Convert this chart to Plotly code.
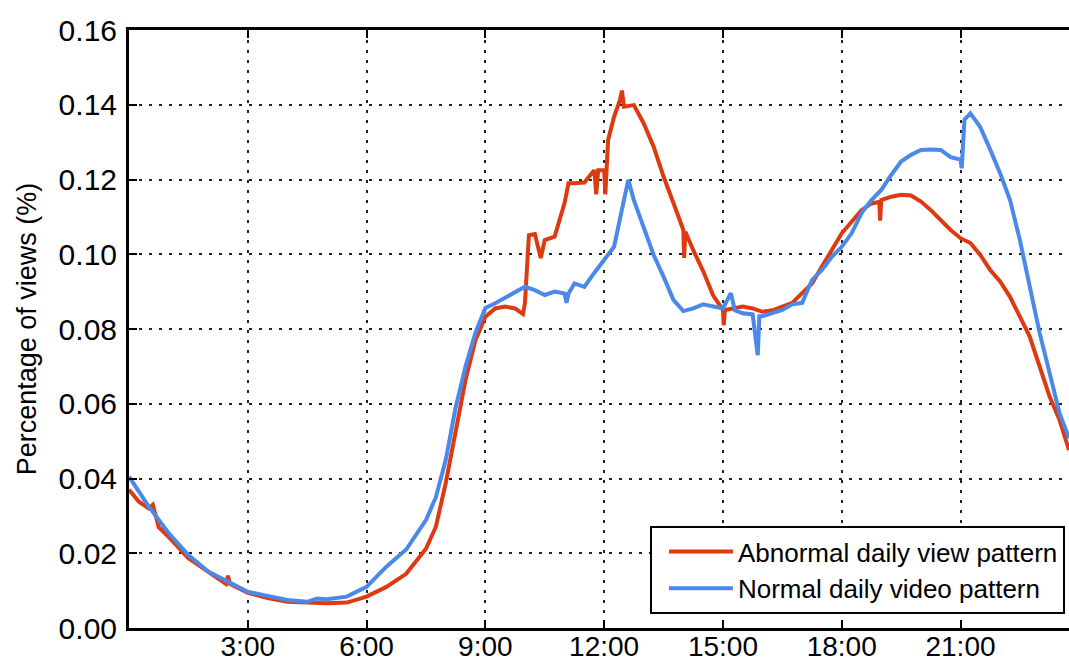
import plotly.graph_objects as go

# Time of day (hours) and percentage of views
abnormal_hours = [0.0, 0.25, 0.5, 0.6, 0.75, 1.0, 1.5, 2.0, 2.45, 2.5, 2.55, 3.0, 3.5, 4.0, 4.5, 5.0, 5.5,
                  6.0, 6.5, 7.0, 7.5, 7.75, 8.0, 8.25, 8.5, 8.75, 9.0, 9.25, 9.5, 9.75, 9.85, 9.95,
                  10.0, 10.1, 10.25, 10.4, 10.5, 10.75, 11.0, 11.1, 11.25, 11.5, 11.75, 11.8, 11.85,
                  12.0, 12.03, 12.1, 12.25, 12.4, 12.45, 12.5, 12.75, 13.0, 13.25, 13.5, 13.75, 14.0,
                  14.02, 14.05, 14.25, 14.5, 14.75, 15.0, 15.02, 15.05, 15.25, 15.5, 15.75, 16.0,
                  16.25, 16.5, 16.75, 17.0, 17.25, 17.5, 17.75, 18.0, 18.25, 18.5, 18.75, 18.95,
                  18.97, 19.0, 19.25, 19.5, 19.75, 20.0, 20.25, 20.5, 20.75, 21.0, 21.25, 21.5,
                  21.75, 22.0, 22.25, 22.5, 22.75, 23.0, 23.25, 23.5, 23.74]
abnormal_views = [0.0370, 0.0338, 0.0320, 0.0330, 0.0270, 0.0244, 0.0187, 0.0150, 0.0118, 0.0140, 0.0118,
                  0.0094, 0.0080, 0.0070, 0.0067, 0.0066, 0.0068, 0.0084, 0.0110, 0.0145, 0.0212,
                  0.0271, 0.0388, 0.0530, 0.0664, 0.0770, 0.0833, 0.0855, 0.0860, 0.0855, 0.0848,
                  0.0840, 0.0870, 0.1051, 0.1054, 0.0990, 0.1038, 0.1047, 0.1137, 0.1190, 0.1190,
                  0.1192, 0.1225, 0.1160, 0.1225, 0.1225, 0.1160, 0.1306, 0.1368, 0.1413, 0.1438,
                  0.1395, 0.1399, 0.1350, 0.1288, 0.1208, 0.1137, 0.1065, 0.0990, 0.1060, 0.1011,
                  0.0955, 0.0890, 0.0851, 0.0810, 0.0851, 0.0855, 0.0860, 0.0855, 0.0846, 0.0850,
                  0.0860, 0.0870, 0.0896, 0.0922, 0.0967, 0.1011, 0.1056, 0.1087, 0.1118, 0.1136,
                  0.1140, 0.1090, 0.1145, 0.1154, 0.1159, 0.1157, 0.1141, 0.1118, 0.1092, 0.1065,
                  0.1043, 0.1030, 0.0998, 0.0958, 0.0927, 0.0886, 0.0833, 0.0779, 0.0699, 0.0619,
                  0.0557, 0.0476]

normal_hours = [0.0, 0.5, 1.0, 1.5, 2.0, 2.5, 3.0, 3.5, 4.0, 4.5, 4.75, 5.0, 5.5, 6.0, 6.5, 7.0, 7.5,
                7.75, 8.0, 8.25, 8.5, 8.75, 9.0, 9.25, 9.5, 9.75, 10.0, 10.25, 10.5, 10.75, 11.0,
                11.05, 11.1, 11.25, 11.5, 11.75, 12.0, 12.25, 12.5, 12.61, 12.75, 13.0, 13.25, 13.5,
                13.75, 14.0, 14.25, 14.5, 14.75, 15.0, 15.2, 15.3, 15.5, 15.75, 15.88, 15.92, 16.0,
                16.25, 16.5, 16.75, 17.0, 17.25, 17.5, 17.75, 18.0, 18.25, 18.5, 18.75, 19.0, 19.25,
                19.5, 19.75, 20.0, 20.25, 20.5, 20.75, 21.0, 21.03, 21.1, 21.25, 21.5, 21.75, 22.0,
                22.25, 22.5, 22.75, 23.0, 23.25, 23.5, 23.74]
normal_views = [0.0405, 0.0325, 0.0254, 0.0195, 0.0151, 0.0124, 0.0097, 0.0086, 0.0075, 0.0070, 0.0079,
                0.0077, 0.0084, 0.0110, 0.0164, 0.0210, 0.0289, 0.0350, 0.0450, 0.0590, 0.0700,
                0.0790, 0.0856, 0.0869, 0.0883, 0.0900, 0.0913, 0.0904, 0.0891, 0.0900, 0.0895,
                0.0870, 0.0895, 0.0922, 0.0913, 0.0950, 0.0985, 0.1020, 0.1145, 0.1199, 0.1145,
                0.1074, 0.0998, 0.0940, 0.0878, 0.0848, 0.0855, 0.0866, 0.0860, 0.0855, 0.0896,
                0.0850, 0.0842, 0.0839, 0.0730, 0.0834, 0.0834, 0.0842, 0.0851, 0.0866, 0.0870,
                0.0931, 0.0958, 0.0993, 0.1020, 0.1056, 0.1110, 0.1145, 0.1172, 0.1212, 0.1248,
                0.1266, 0.1279, 0.1280, 0.1279, 0.1260, 0.1253, 0.1230, 0.1360, 0.1377, 0.1340,
                0.1280, 0.1217, 0.1145, 0.1038, 0.0913, 0.0789, 0.0682, 0.0575, 0.0508]

tick_hours = [3, 6, 9, 12, 15, 18, 21]
tick_labels = ["3:00", "6:00", "9:00", "12:00", "15:00", "18:00", "21:00"]
y_ticks = [0.00, 0.02, 0.04, 0.06, 0.08, 0.10, 0.12, 0.14, 0.16]

RED = "#dd3a12"
BLUE = "#4a88ea"
FONT = "Liberation Sans, Arial, sans-serif"

fig = go.Figure()
fig.add_trace(go.Scatter(x=abnormal_hours, y=abnormal_views, mode="lines",
                         name="Abnormal daily view pattern",
                         line=dict(color=RED, width=4)))
fig.add_trace(go.Scatter(x=normal_hours, y=normal_views, mode="lines",
                         name="Normal daily video pattern",
                         line=dict(color=BLUE, width=4)))

fig.update_layout(
    width=1069, height=663,
    margin=dict(l=129, r=0, t=30, b=35),
    plot_bgcolor="white", paper_bgcolor="white",
    font=dict(family=FONT, color="black"),
    showlegend=True,
    legend=dict(x=0.9957, y=0.0234, xanchor="right", yanchor="bottom",
                bgcolor="white", bordercolor="black", borderwidth=2,
                font=dict(size=26, family=FONT, color="black"),
                itemwidth=64, indentation=12, tracegroupgap=0),
)
fig.update_xaxes(
    range=[0, 23.74], tickmode="array", tickvals=tick_hours, ticktext=tick_labels,
    showline=True, linecolor="black", linewidth=3, mirror="ticks",
    ticks="inside", ticklen=8, tickwidth=1.5, tickcolor="black",
    tickfont=dict(size=28, family=FONT, color="black"),
    ticklabelstandoff=-9,
    showgrid=True, gridcolor="#222222", gridwidth=1.5, griddash="3px,7px",
    zeroline=False, automargin=False,
)
fig.update_yaxes(
    range=[0, 0.16], tickmode="array", tickvals=y_ticks, tickformat=".2f",
    showline=True, linecolor="black", linewidth=3, mirror=False,
    ticks="inside", ticklen=8, tickwidth=1.5, tickcolor="black",
    tickfont=dict(size=30, family=FONT, color="black"),
    ticklabelstandoff=3,
    showgrid=True, gridcolor="#222222", gridwidth=1.5, griddash="3px,7px",
    zeroline=False, automargin=False,
    title=dict(text="Percentage of views (%)", font=dict(size=27, family=FONT, color="black"),
               standoff=15),
)

fig.write_html("out.html",
               config={"displayModeBar": False},
               post_script="document.body.style.margin='0';document.body.style.overflow='hidden';")
